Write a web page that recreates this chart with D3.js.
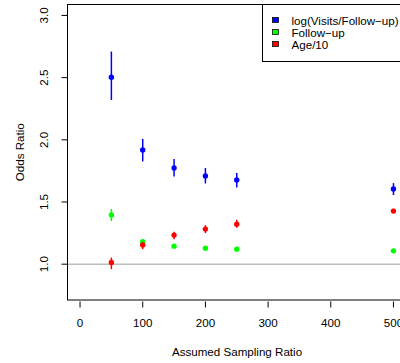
<!DOCTYPE html>
<html>
<head>
<meta charset="utf-8">
<script src="https://cdn.jsdelivr.net/npm/d3@7"></script>
<style>
  body { margin: 0; background: #fff; }
  text { font-family: "Liberation Sans", Arial, sans-serif; font-size: 11.6px; fill: #000; }
</style>
</head>
<body>
<svg id="chart" width="400" height="363"></svg>
<script>
// Sampling ratios on the x axis
const ratios = [50, 100, 150, 200, 250, 500];

// Odds ratio estimates with lower / upper limits
const visitsOR  = [2.503, 1.918, 1.773, 1.709, 1.677, 1.604];
const visitsLo  = [2.32, 1.826, 1.706, 1.649, 1.617, 1.556];
const visitsHi  = [2.71, 2.007, 1.846, 1.773, 1.733, 1.652];

const followOR  = [1.395, 1.18, 1.145, 1.129, 1.121, 1.107];
const followLo  = [1.346, 1.168, 1.137, 1.122, 1.114, 1.101];
const followHi  = [1.443, 1.192, 1.153, 1.136, 1.128, 1.113];

const ageOR     = [1.013, 1.155, 1.234, 1.282, 1.322, 1.427];
const ageLo     = [0.96, 1.121, 1.2, 1.25, 1.292, 1.41];
const ageHi     = [1.053, 1.175, 1.26, 1.314, 1.357, 1.445];

const seriesNames = ["log(Visits/Follow\u2212up)", "Follow\u2212up", "Age/10"];
const seriesColors = ["#0000ff", "#00ff00", "#ff0000"];

const xTicks = [0, 100, 200, 300, 400, 500];
const yTicks = [1.0, 1.5, 2.0, 2.5, 3.0];

const svg = d3.select("#chart");

// plot region (R style, 4% padding around limits)
const x = d3.scaleLinear().domain([-20, 520]).range([67.5, 406]);
const y = d3.scaleLinear().domain([0.712, 3.088]).range([300, 4.5]);

// reference line at 1
svg.append("line")
    .attr("x1", x(-20)).attr("x2", x(520))
    .attr("y1", y(1)).attr("y2", y(1))
    .attr("stroke", "#bebebe").attr("stroke-width", 1.5);

// box
svg.append("rect")
    .attr("x", 67.5).attr("y", 4.5)
    .attr("width", 338.5).attr("height", 295.5)
    .attr("fill", "none").attr("stroke", "#000").attr("stroke-width", 1);

// y axis (ticks + rotated labels)
const yAxis = svg.append("g");
yAxis.selectAll("line").data(yTicks).enter().append("line")
    .attr("x1", 61.5).attr("x2", 67.5)
    .attr("y1", d => y(d)).attr("y2", d => y(d))
    .attr("stroke", "#000");
yAxis.selectAll("text").data(yTicks).enter().append("text")
    .attr("transform", d => "translate(48," + y(d) + ") rotate(-90)")
    .attr("text-anchor", "middle")
    .text(d => d3.format(".1f")(d));

// x axis (ticks only, offset below box)
const xAxis = svg.append("g");
xAxis.selectAll("line").data(xTicks).enter().append("line")
    .attr("x1", d => x(d)).attr("x2", d => x(d))
    .attr("y1", 301.5).attr("y2", 307.5)
    .attr("stroke", "#000");
xAxis.selectAll("text").data(xTicks).enter().append("text")
    .attr("x", d => x(d)).attr("y", 327)
    .attr("text-anchor", "middle")
    .text(d => d);

// axis titles
svg.append("text")
    .attr("x", 237).attr("y", 355.5)
    .attr("text-anchor", "middle")
    .text("Assumed Sampling Ratio");
svg.append("text")
    .attr("transform", "translate(24," + y(1.9) + ") rotate(-90)")
    .attr("text-anchor", "middle")
    .text("Odds Ratio");

// series: error bars + points
const series = [
    {est: visitsOR, lo: visitsLo, hi: visitsHi},
    {est: followOR, lo: followLo, hi: followHi},
    {est: ageOR, lo: ageLo, hi: ageHi}
];

series.forEach(function(s, i) {
    const pts = ratios.map((r, j) => ({r: r, est: s.est[j], lo: s.lo[j], hi: s.hi[j]}));
    const g = svg.append("g");
    g.selectAll("line").data(pts).enter().append("line")
        .attr("x1", d => x(d.r)).attr("x2", d => x(d.r))
        .attr("y1", d => y(d.lo)).attr("y2", d => y(d.hi))
        .attr("stroke", seriesColors[i]).attr("stroke-width", 1.5);
    g.selectAll("circle").data(pts).enter().append("circle")
        .attr("cx", d => x(d.r)).attr("cy", d => y(d.est))
        .attr("r", 2.7)
        .attr("fill", seriesColors[i]);
});

// legend (top right)
const legend = svg.append("g");
legend.append("rect")
    .attr("x", 262.5).attr("y", 4.5)
    .attr("width", 143.5).attr("height", 57)
    .attr("fill", "#fff").attr("stroke", "#000").attr("stroke-width", 1);
seriesNames.forEach(function(name, i) {
    const cy = 20.5 + i * 12;
    legend.append("rect")
        .attr("x", 272.5).attr("y", cy - 3)
        .attr("width", 6).attr("height", 5)
        .attr("fill", seriesColors[i]).attr("stroke", "#000").attr("stroke-width", 0.75);
    legend.append("text")
        .attr("x", 291.5).attr("y", cy + 4)
        .text(name);
});
</script>
</body>
</html>
